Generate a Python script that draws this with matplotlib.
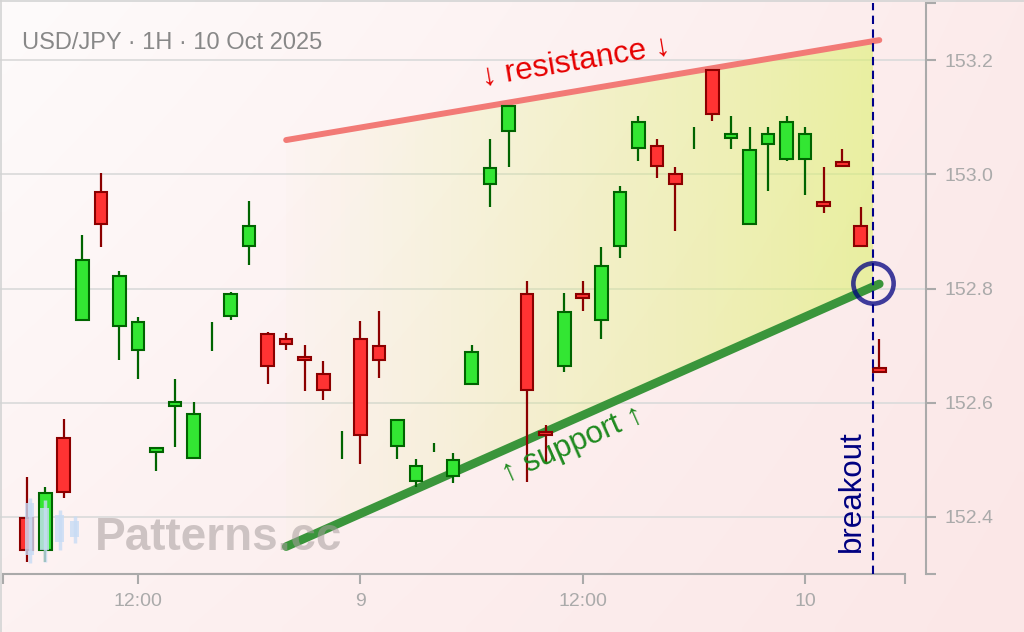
import numpy as np
import pandas as pd
import matplotlib
matplotlib.use("Agg")
import matplotlib.pyplot as plt
from matplotlib.patches import Rectangle, Polygon
from matplotlib.lines import Line2D

plt.rcParams['font.family'] = ['Liberation Sans', 'DejaVu Sans']

# USD/JPY hourly bars, 8 Oct 06:00 -> 10 Oct 04:00
times = pd.date_range("2025-10-08 06:00", periods=47, freq="h")
opens = [152.398, 152.342, 152.539, 152.745, 152.969, 152.735, 152.693, 152.514,
         152.595, 152.504, 152.715, 152.752, 152.874, 152.721, 152.711, 152.680,
         152.651, 152.525, 152.711, 152.700, 152.524, 152.462, 152.520, 152.472,
         152.633, 152.983, 153.075, 152.791, 152.549, 152.665, 152.791, 152.745,
         152.875, 153.046, 153.049, 153.001, 153.063, 153.183, 153.064, 152.913,
         153.053, 153.026, 153.026, 152.951, 153.022, 152.910, 152.660]
highs = [152.470, 152.453, 152.572, 152.894, 153.002, 152.831, 152.750, 152.523,
         152.642, 152.602, 152.742, 152.793, 152.953, 152.723, 152.722, 152.701,
         152.673, 152.551, 152.743, 152.761, 152.572, 152.501, 152.530, 152.512,
         152.701, 153.061, 153.121, 152.813, 152.561, 152.792, 152.813, 152.872,
         152.980, 153.102, 153.062, 153.012, 153.082, 153.185, 153.102, 153.082,
         153.082, 153.102, 153.082, 153.012, 153.044, 152.942, 152.711]
lows = [152.321, 152.321, 152.433, 152.743, 152.873, 152.674, 152.642, 152.481,
        152.523, 152.502, 152.691, 152.744, 152.842, 152.632, 152.692, 152.621,
        152.604, 152.502, 152.492, 152.643, 152.502, 152.453, 152.513, 152.460,
        152.631, 152.943, 153.013, 152.461, 152.493, 152.653, 152.761, 152.712,
        152.853, 153.024, 152.993, 152.901, 153.045, 153.094, 153.045, 152.911,
        152.971, 153.024, 152.964, 152.933, 153.013, 152.873, 152.652]
closes = [152.342, 152.441, 152.444, 152.850, 152.913, 152.822, 152.742, 152.521,
          152.602, 152.581, 152.715, 152.791, 152.910, 152.664, 152.703, 152.675,
          152.623, 152.525, 152.543, 152.675, 152.570, 152.489, 152.520, 152.500,
          152.689, 153.011, 153.119, 152.623, 152.543, 152.759, 152.784, 152.839,
          152.969, 153.092, 153.014, 152.983, 153.063, 153.105, 153.071, 153.042,
          153.071, 153.092, 153.071, 152.945, 153.015, 152.875, 152.654]

# rising wedge (bar index, price)
res_x = [14, 46]
res_y = [153.06, 153.235]
sup_x = [14, 46]
sup_y = [152.348, 152.808]
breakout_x = 45.67
breakout_y = 152.81

yticks = [152.4, 152.6, 152.8, 153.0, 153.2]

# little logo next to the watermark
icon_lo = [0.03, 0.04, 0.21, 0.31]
icon_hi = [0.96, 0.93, 0.79, 0.70]
icon_bot = [0.14, 0.21, 0.33, 0.40]
icon_top = [0.89, 0.81, 0.71, 0.63]

fig = plt.figure(figsize=(10.24, 6.32), dpi=100)

# pinkish background
bg = fig.add_axes([0, 0, 1, 1], zorder=-10)
yy, xx = np.mgrid[0:1:64j, 0:1:100j]
tl = np.array([254, 251, 251]) / 255
tr = np.array([252, 235, 235]) / 255
bl = np.array([253, 242, 242]) / 255
br = np.array([251, 231, 231]) / 255
img = ((1 - xx) * (1 - yy))[..., None] * tl + (xx * (1 - yy))[..., None] * tr \
    + ((1 - xx) * yy)[..., None] * bl + (xx * yy)[..., None] * br
bg.imshow(img, extent=[0, 1, 0, 1], aspect='auto', interpolation='bilinear')
bg.axis('off')
fig.add_artist(Line2D([0, 1], [0.999, 0.999], color='#d4d4d4', lw=1.2))
fig.add_artist(Line2D([0.001, 0.001], [0, 1], color='#d4d4d4', lw=1.2))

ax = fig.add_axes([0, 58 / 632, 926 / 1024, 571 / 632])
ax.set_facecolor('none')

# wedge fill, fading in to the right
res_end = np.interp(breakout_x, res_x, res_y)
sup_end = np.interp(breakout_x, sup_x, sup_y)
g = np.linspace(0, 1, 256)[None, :]
rgba = np.zeros((1, 256, 4))
rgba[..., 0] = 0.86
rgba[..., 1] = 0.95
rgba[..., 2] = 0.40
rgba[..., 3] = 0.02 + 0.54 * g ** 1.1
im = ax.imshow(rgba, extent=[res_x[0], breakout_x, 152.3, 153.3], aspect='auto',
               interpolation='bilinear', zorder=1)
poly = Polygon([(res_x[0], sup_y[0]), (breakout_x, sup_end),
                (breakout_x, res_end), (res_x[0], res_y[0])],
               closed=True, facecolor='none', edgecolor='none')
ax.add_patch(poly)
im.set_clip_path(poly)

ax.plot(res_x, res_y, color='#f27a76', lw=4.3, solid_capstyle='round', zorder=2)
ax.plot(sup_x, sup_y, color='#3a953b', lw=6.2, solid_capstyle='round', zorder=2)

# candles
w = 0.68
for i in range(len(opens)):
    o, h, l, c = opens[i], highs[i], lows[i], closes[i]
    up = c >= o
    edge = '#006400' if up else '#8b0000'
    face = '#33e633' if up else '#ff3333'
    ax.vlines(i, l, h, color=edge, lw=1.6, zorder=3)
    if c != o:
        ax.add_patch(Rectangle((i - w / 2, min(o, c)), w, abs(c - o),
                               facecolor=face, edgecolor=edge, lw=1.5, zorder=4))

ax.axvline(breakout_x, color='#00008b', lw=1.5, ls=(0, (4, 2.6)), zorder=5)
ax.plot([breakout_x], [breakout_y], 'o', ms=29, mfc='none', mec='#000080',
        mew=3.3, alpha=0.75, zorder=6)

ax.set_xlim(-1.44, 48.52)
ax.set_ylim(152.30, 153.30)

# labels along the lines
def angle(xs, ys):
    p = ax.transData.transform(np.column_stack([xs, ys]))
    return np.degrees(np.arctan2(p[1, 1] - p[0, 1], p[1, 0] - p[0, 0]))

ax.text(29.64, 153.197, '↓ resistance ↓', color='#e60000', fontsize=22.5,
        rotation=angle(res_x, res_y), rotation_mode='anchor',
        ha='center', va='center', zorder=7)
ax.text(29.47, 152.527, '↑ support ↑', color='#1f8a1f', fontsize=22.5,
        rotation=angle(sup_x, sup_y), rotation_mode='anchor',
        ha='center', va='center', zorder=7)
ax.text(breakout_x - 1.15, 152.338, 'breakout', color='#000080', fontsize=22.5,
        rotation=90, ha='center', va='bottom', zorder=7)

# axes styling
for s in ['top', 'left']:
    ax.spines[s].set_visible(False)
ax.spines['right'].set_color('#aaaaaa')
ax.spines['right'].set_linewidth(1.5)
ax.spines['bottom'].set_color('#aaaaaa')
ax.spines['bottom'].set_linewidth(1.5)
ax.spines['bottom'].set_bounds(-1.28, 47.39)
ax.yaxis.tick_right()

ax.set_yticks(yticks)
ax.set_yticklabels([f'{v:.1f}' for v in yticks])
ax.set_yticks([152.30, 153.30], minor=True)

tick_pos = [i for i, t in enumerate(times) if t.hour in (0, 12)]
tick_lab = ['12:00' if times[i].hour == 12 else str(times[i].day) for i in tick_pos]
ax.set_xticks(tick_pos)
ax.set_xticklabels(tick_lab)
ax.set_xticks([-1.28, 47.39], minor=True)

ax.tick_params(which='both', length=7.5, width=1.5, color='#aaaaaa',
               labelcolor='#aaaaaa', labelsize=14, pad=6)
ax.yaxis.grid(True, color='#dcdcdc', lw=1.3, zorder=0)
ax.set_axisbelow(True)

fig.text(22 / 1024, (632 - 49) / 632, 'USD/JPY · 1H · 10 Oct 2025',
         color='#888888', fontsize=17, va='baseline', ha='left')

# watermark
fig.text(95 / 1024, (632 - 550) / 632, 'Patterns.cc', color='#a89e9e', alpha=0.55,
         fontsize=33, fontweight='bold', va='baseline', ha='left', zorder=1)
ic = fig.add_axes([22 / 1024, 67 / 632, 60 / 1024, 70 / 632], zorder=5)
ic.set_xlim(-0.5, 3.5)
ic.set_ylim(0, 1)
ic.axis('off')
for i in range(len(icon_lo)):
    ic.vlines(i, icon_lo[i], icon_hi[i], color='#c8dcf5', lw=2.5, alpha=0.8)
    ic.add_patch(Rectangle((i - 0.33, icon_bot[i]), 0.66, icon_top[i] - icon_bot[i],
                           facecolor='#c8dcf5', edgecolor='none', alpha=0.8))

fig.savefig('out.png', dpi=100)
